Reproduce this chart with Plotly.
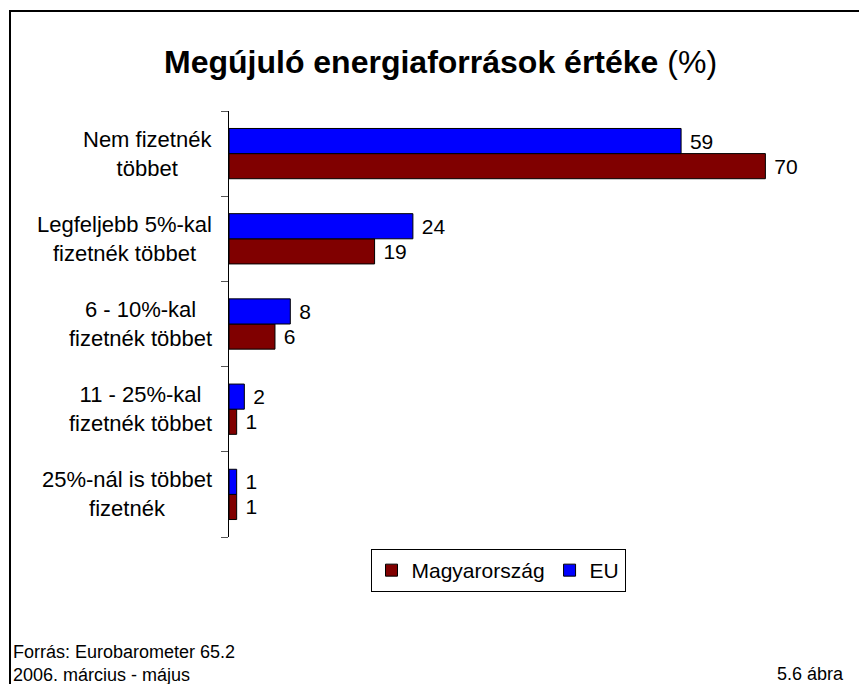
import plotly.graph_objects as go

categories = ["Nem fizetnék<br>többet",
              "Legfeljebb 5%-kal<br>fizetnék többet",
              "6 - 10%-kal<br>fizetnék többet",
              "11 - 25%-kal<br>fizetnék többet",
              "25%-nál is többet<br>fizetnék"]
cat_keys = ["c1", "c2", "c3", "c4", "c5"]
hu_values = [70, 19, 6, 1, 1]
eu_values = [59, 24, 8, 2, 1]
series_names = ["Magyarország", "EU"]
title_text = "<b>Megújuló energiaforrások értéke</b> (%)"
source_lines = ["Forrás: Eurobarometer 65.2", "2006. március - május"]
fig_label = "5.6 ábra"

FONT = "Liberation Sans, Arial, sans-serif"
W, H = 859, 684
L, R, T, B = 229, 17, 111, 147
PW, PH = W - L - R, H - T - B

def px(x):
    return (x - L) / PW

def py(y):
    return (H - B - y) / PH

fig = go.Figure()
fig.add_trace(go.Bar(
    y=cat_keys, x=hu_values, name=series_names[0], orientation="h",
    marker=dict(color="#800000", line=dict(color="black", width=1)),
    texttemplate=" %{x}", textposition="outside",
    textfont=dict(size=21, color="black", family=FONT), cliponaxis=False))
fig.add_trace(go.Bar(
    y=cat_keys, x=eu_values, name=series_names[1], orientation="h",
    marker=dict(color="#0000FF", line=dict(color="black", width=1)),
    texttemplate=" %{x}", textposition="outside",
    textfont=dict(size=21, color="black", family=FONT), cliponaxis=False))

annotations = []
for key, lab in zip(cat_keys, categories):
    annotations.append(dict(x=px(214), xref="paper", y=key, yref="y",
                            text=lab, showarrow=False, xanchor="right",
                            yanchor="middle", align="center",
                            font=dict(size=22, color="black", family=FONT)))
annotations.append(dict(x=px(440), xref="paper", y=py(62), yref="paper",
                        text=title_text, showarrow=False, xanchor="center",
                        yanchor="middle",
                        font=dict(size=32, color="black", family=FONT)))
annotations.append(dict(x=px(11), xref="paper", y=py(663), yref="paper",
                        text="<br>".join(source_lines), showarrow=False,
                        xanchor="left", yanchor="middle", align="left",
                        font=dict(size=18, color="black", family=FONT)))
annotations.append(dict(x=px(846), xref="paper", y=py(674), yref="paper",
                        text=fig_label, showarrow=False,
                        xanchor="right", yanchor="middle",
                        font=dict(size=18, color="black", family=FONT)))

fig.update_layout(
    width=W, height=H,
    margin=dict(l=L, r=R, t=T, b=B, pad=0),
    paper_bgcolor="white", plot_bgcolor="white",
    barmode="group", bargap=0.41, bargroupgap=0,
    showlegend=True,
    legend=dict(orientation="h", x=px(498), xanchor="center",
                y=py(549), yanchor="top",
                bordercolor="black", borderwidth=1, bgcolor="white",
                font=dict(size=21, color="black", family=FONT),
                itemwidth=30, tracegroupgap=0),
    xaxis=dict(range=[0, 80], visible=False, fixedrange=True),
    yaxis=dict(categoryorder="array", categoryarray=cat_keys[::-1],
               showline=True, linecolor="black", linewidth=1,
               ticks="outside", ticklen=7, tickcolor="#555555",
               tickson="boundaries", showticklabels=False,
               showgrid=False, zeroline=False, fixedrange=True),
    annotations=annotations,
    shapes=[dict(type="rect", xref="paper", yref="paper",
                 x0=px(10), x1=px(880), y0=py(11), y1=py(720),
                 line=dict(color="black", width=2), layer="above")],
)

fig.write_html("out.html",
               config={"displayModeBar": False},
               post_script="document.body.style.margin='0';document.body.style.overflow='hidden';")
